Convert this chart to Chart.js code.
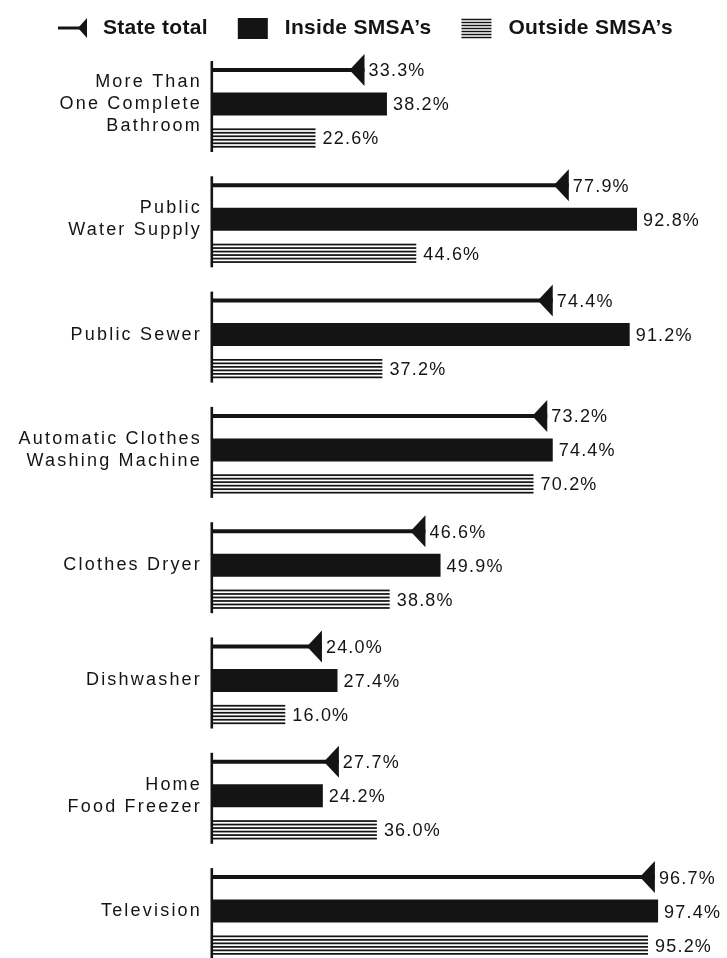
<!DOCTYPE html>
<html>
<head>
<meta charset="utf-8">
<script src="https://cdn.jsdelivr.net/npm/chart.js@4/dist/chart.umd.min.js"></script>
<style>
html,body{margin:0;padding:0;background:#fff;overflow:hidden;}
#wrap{width:727px;height:958px;overflow:hidden;position:relative;background:#fff;}
canvas{display:block;}
</style>
</head>
<body>
<div id="wrap"><canvas id="c" width="727" height="970" style="width:727px;height:970px"></canvas></div>
<script>
// ---- data ----
const categories = [
  ['More Than', 'One Complete', 'Bathroom'],
  ['Public', 'Water Supply'],
  'Public Sewer',
  ['Automatic Clothes', 'Washing Machine'],
  'Clothes Dryer',
  'Dishwasher',
  ['Home', 'Food Freezer'],
  'Television'
];
const stateTotal  = [33.3, 77.9, 74.4, 73.2, 46.6, 24.0, 27.7, 96.7];
const insideSMSA  = [38.2, 92.8, 91.2, 74.4, 49.9, 27.4, 24.2, 97.4];
const outsideSMSA = [22.6, 44.6, 37.2, 70.2, 38.8, 16.0, 36.0, 95.2];
const seriesNames = ['State total', 'Inside SMSA\u2019s', 'Outside SMSA\u2019s'];

// ---- style ----
const INK = '#141414';
const FONT = '"Liberation Sans", Arial, Helvetica, sans-serif';
const CAT_PCT = 0.885;

function stripeRect(ctx, x0, x1, top, bottom, n) {
  const h = bottom - top;
  const period = h / n;
  const lw = period * 0.5;
  ctx.fillStyle = INK;
  for (let k = 0; k < n; k++) {
    const y = top + k * period + (period - lw) / 2;
    ctx.fillRect(x0, y, x1 - x0, lw);
  }
}

function triangle(ctx, baseX, cy, w, halfH) {
  ctx.beginPath();
  ctx.moveTo(baseX, cy - halfH);
  ctx.lineTo(baseX, cy + halfH);
  ctx.lineTo(baseX - w, cy);
  ctx.closePath();
  ctx.fillStyle = INK;
  ctx.fill();
}

const marksPlugin = {
  id: 'marks',
  beforeUpdate(chart) { chart.ctx.letterSpacing = '2.2px'; },
  beforeDraw(chart) { chart.ctx.letterSpacing = '2.2px'; },
  afterDatasetsDraw(chart) {
    const ctx = chart.ctx;
    const xs = chart.scales.x, ys = chart.scales.y;
    const x0 = xs.getPixelForValue(0);
    ctx.save();
    // striped bars (Outside SMSA's)
    chart.getDatasetMeta(2).data.forEach(el => {
      const p = el.getProps(['x', 'y', 'base', 'height'], true);
      stripeRect(ctx, p.base, p.x, p.y - p.height / 2, p.y + p.height / 2, 6);
    });
    // arrow heads (State total)
    chart.getDatasetMeta(0).data.forEach(el => {
      const p = el.getProps(['x', 'y'], true);
      triangle(ctx, p.x, p.y, 15, 16);
    });
    // axis segments per group
    ctx.fillStyle = INK;
    for (let i = 0; i < categories.length; i++) {
      const c = ys.getPixelForTick(i);
      ctx.fillRect(x0 - 1.5, c - 43, 2.6, 91);
    }
    // value labels
    ctx.letterSpacing = '1.2px';
    ctx.font = '18px ' + FONT;
    ctx.textAlign = 'left';
    ctx.textBaseline = 'middle';
    ctx.fillStyle = INK;
    chart.data.datasets.forEach((ds, di) => {
      chart.getDatasetMeta(di).data.forEach((el, i) => {
        const p = el.getProps(['x', 'y'], true);
        const gap = di === 0 ? 4 : (di === 2 ? 7 : 6);
        ctx.fillText(ds.data[i].toFixed(1) + '%', p.x + gap, p.y + 1.5);
      });
    });
    ctx.restore();
  },
  afterDraw(chart) {
    // legend
    const ctx = chart.ctx;
    ctx.save();
    ctx.letterSpacing = '0.3px';
    ctx.font = 'bold 21px ' + FONT;
    ctx.textBaseline = 'alphabetic';
    ctx.textAlign = 'left';
    const symW = 30, itemGap = 30;
    const toText = [45, 47, 47];
    const top = 18, bottom = 39, cy = 28, base = 34;
    let x = 58;
    seriesNames.forEach((name, i) => {
      ctx.fillStyle = INK;
      if (i === 0) {
        ctx.fillRect(x, cy - 1.5, 24, 3);
        triangle(ctx, x + 29, cy, 9, 10);
      } else if (i === 1) {
        ctx.fillRect(x, top, symW, bottom - top);
      } else {
        stripeRect(ctx, x, x + symW, top, bottom, 7);
      }
      ctx.fillStyle = INK;
      ctx.fillText(name, x + toText[i], base);
      x += toText[i] + ctx.measureText(name).width + itemGap;
    });
    ctx.restore();
  }
};

new Chart(document.getElementById('c'), {
  type: 'bar',
  data: {
    labels: categories,
    datasets: [
      { label: seriesNames[0], data: stateTotal, backgroundColor: INK,
        barPercentage: 4 / 34, categoryPercentage: CAT_PCT },
      { label: seriesNames[1], data: insideSMSA, backgroundColor: INK,
        barPercentage: 23 / 34, categoryPercentage: CAT_PCT },
      { label: seriesNames[2], data: outsideSMSA, backgroundColor: 'rgba(0,0,0,0)',
        barPercentage: 21 / 34, categoryPercentage: CAT_PCT }
    ]
  },
  options: {
    indexAxis: 'y',
    responsive: false,
    animation: false,
    events: [],
    layout: { padding: { top: 46.35, left: 0, right: 57, bottom: 1.25 } },
    plugins: { legend: { display: false }, tooltip: { enabled: false }, title: { display: false } },
    scales: {
      x: { type: 'linear', min: 0, max: 100, display: false },
      y: {
        type: 'category',
        offset: true,
        grid: { display: false, drawTicks: false },
        border: { display: false },
        ticks: {
          color: INK,
          padding: 10,
          font: { family: FONT, size: 18, lineHeight: 1.2 }
        },
        afterFit(scale) {
          scale.width = 212;
          scale.paddingTop = 0;
          scale.paddingBottom = 0;
        }
      }
    }
  },
  plugins: [marksPlugin]
});
</script>
</body>
</html>
